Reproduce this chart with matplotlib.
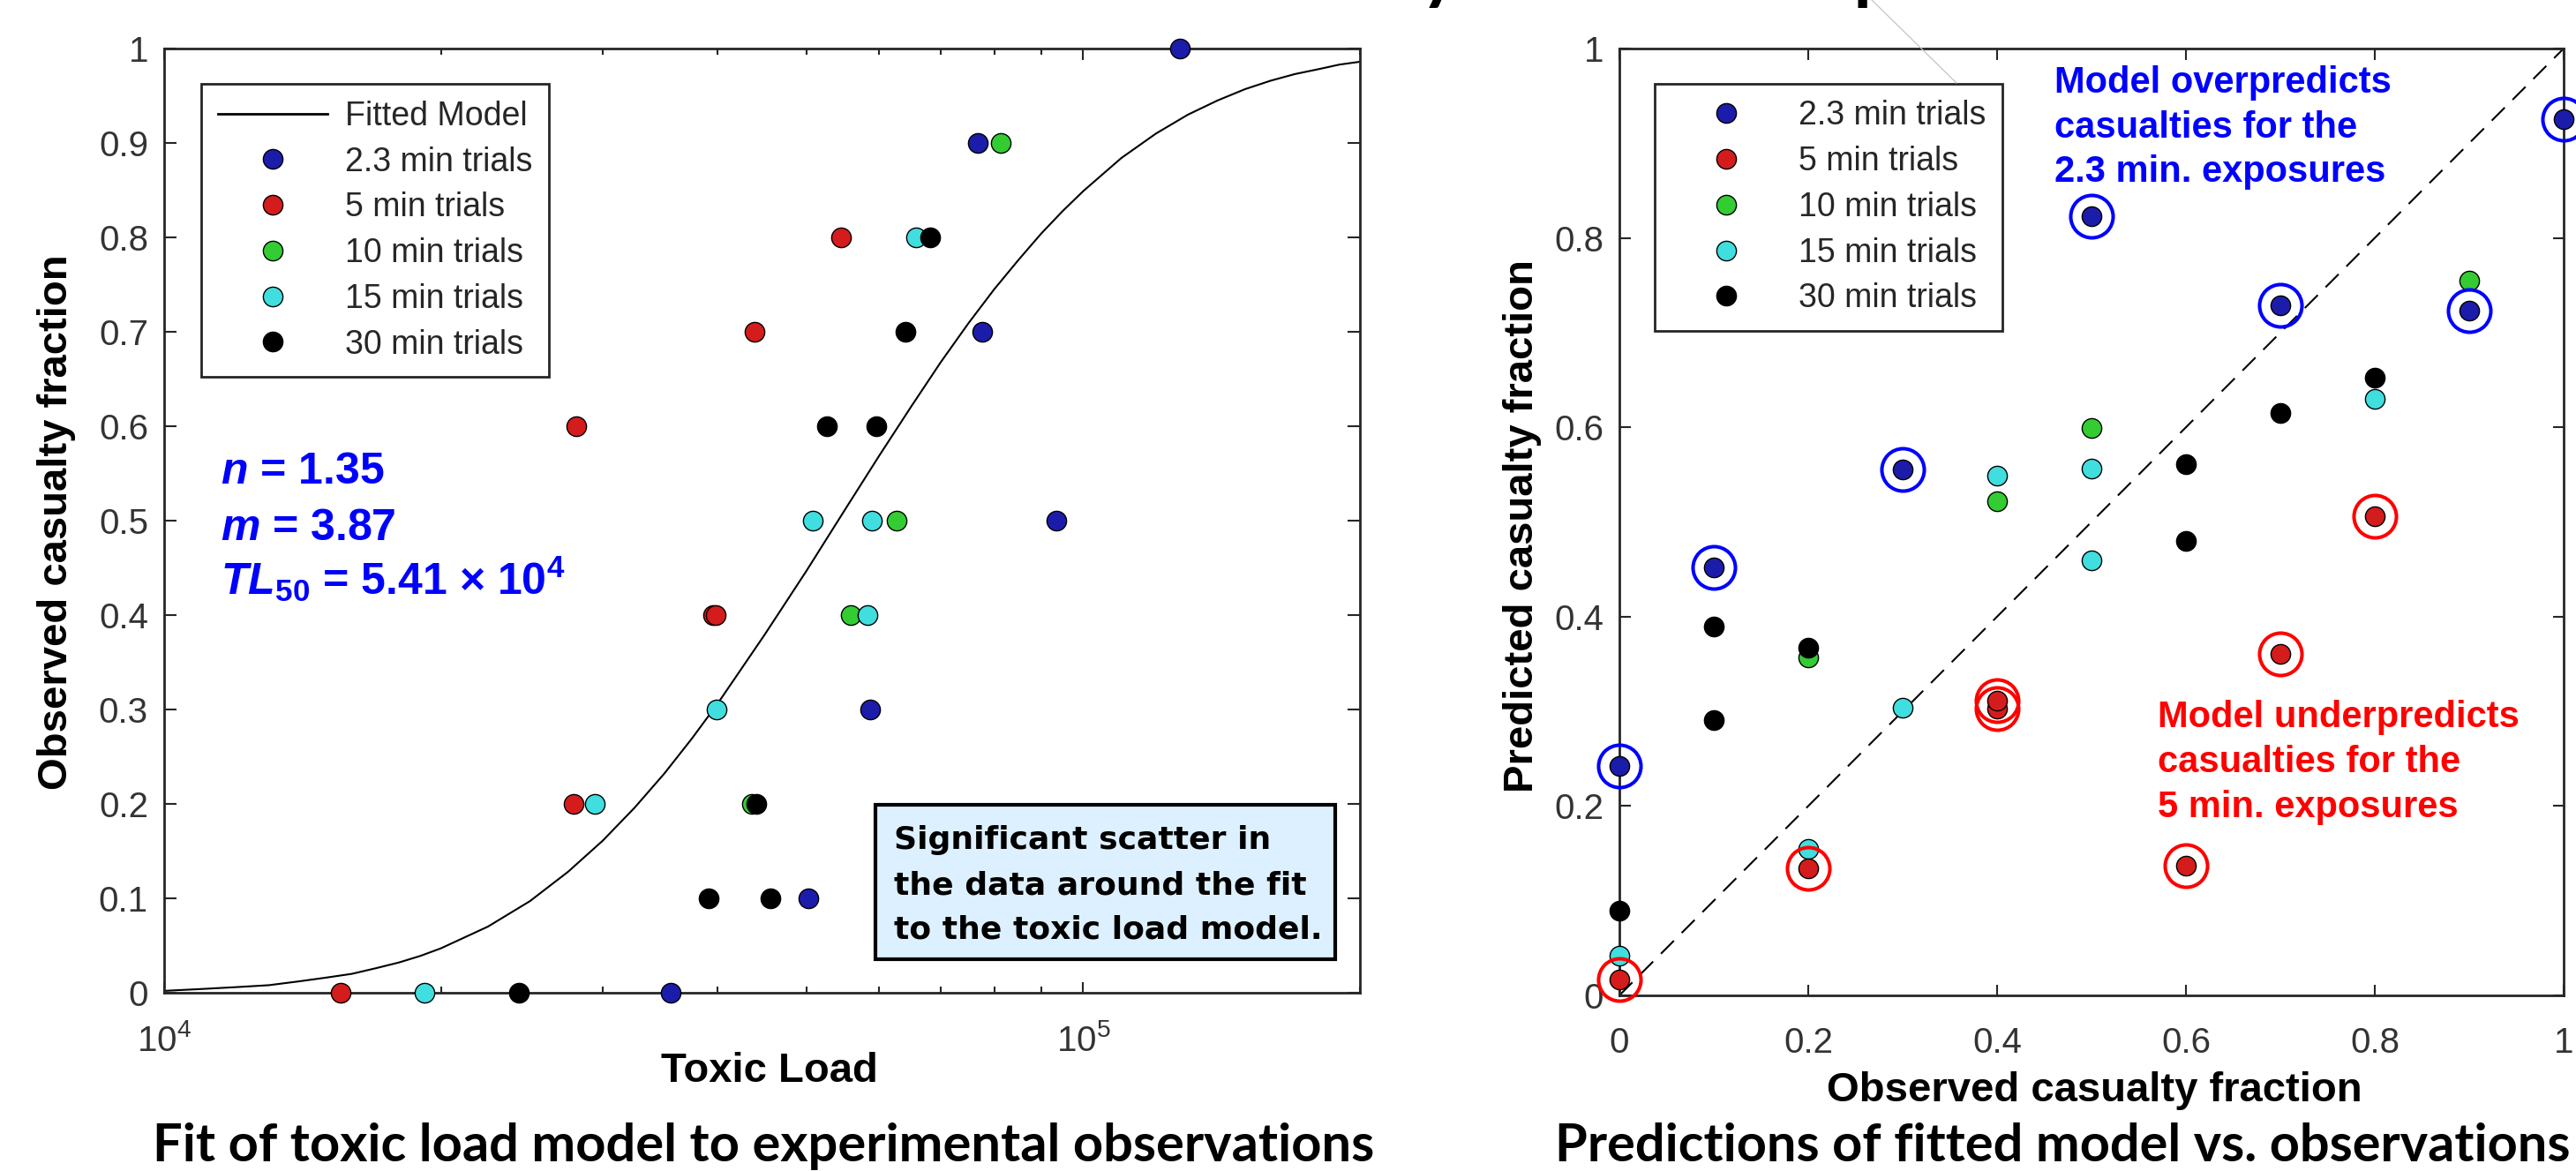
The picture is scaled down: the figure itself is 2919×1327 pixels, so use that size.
import numpy as np
import matplotlib
matplotlib.use("Agg")
import matplotlib.pyplot as plt
from matplotlib.lines import Line2D
from matplotlib.patches import Rectangle
from matplotlib.ticker import LogLocator, NullFormatter

plt.rcParams['font.family'] = ['Liberation Sans', 'DejaVu Sans']
plt.rcParams['mathtext.fontset'] = 'custom'
plt.rcParams['mathtext.rm'] = 'Liberation Sans'
plt.rcParams['mathtext.it'] = 'Liberation Sans:italic'
plt.rcParams['mathtext.bf'] = 'Liberation Sans:bold'
plt.rcParams['mathtext.bfit'] = 'Liberation Sans:italic:bold'

# ---------------- data ----------------
series_labels = ['2.3 min trials', '5 min trials', '10 min trials', '15 min trials', '30 min trials']
series_colors = ['#1c1caa', '#d41c1c', '#33cc33', '#40dede', '#000000']

# observed casualty fraction vs toxic load (left panel)
tl_23 = [1.275e5, 7.68e4, 7.76e4, 9.35e4, 5.86e4, 5.02e4, 3.56e4]
obs_23 = [1.0, 0.9, 0.7, 0.5, 0.3, 0.1, 0.0]
tl_5 = [5.45e4, 4.39e4, 2.81e4, 3.96e4, 3.98e4, 2.79e4, 1.556e4]
obs_5 = [0.8, 0.7, 0.6, 0.4, 0.4, 0.2, 0.0]
tl_10 = [8.13e4, 6.27e4, 5.58e4, 4.36e4]
obs_10 = [0.9, 0.5, 0.4, 0.2]
tl_15 = [6.58e4, 5.08e4, 5.89e4, 5.82e4, 3.99e4, 2.94e4, 1.92e4]
obs_15 = [0.8, 0.5, 0.5, 0.4, 0.3, 0.2, 0.0]
tl_30 = [6.81e4, 6.41e4, 5.26e4, 5.95e4, 4.41e4, 3.91e4, 4.57e4, 2.43e4]
obs_30 = [0.8, 0.7, 0.6, 0.6, 0.2, 0.1, 0.1, 0.0]

# predicted casualty fraction (right panel), same order as the observed lists
pred_23 = [0.925, 0.723, 0.729, 0.823, 0.555, 0.452, 0.2425]
pred_5 = [0.506, 0.361, 0.137, 0.303, 0.311, 0.134, 0.017]
pred_10 = [0.755, 0.599, 0.522, 0.357]
pred_15 = [0.630, 0.459, 0.556, 0.549, 0.304, 0.155, 0.0415]
pred_30 = [0.652, 0.615, 0.480, 0.561, 0.367, 0.291, 0.390, 0.0895]

# fitted model curve
curve_tl = [1.0e4, 1.1e4, 1.2e4, 1.3e4, 1.4e4, 1.5e4, 1.6e4, 1.7e4, 1.8e4, 1.9e4,
            2.0e4, 2.25e4, 2.5e4, 2.75e4, 3.0e4, 3.25e4, 3.5e4, 3.75e4, 4.0e4, 4.5e4,
            5.0e4, 5.5e4, 6.0e4, 6.5e4, 7.0e4, 7.5e4, 8.0e4, 8.5e4, 9.0e4, 9.5e4,
            1.0e5, 1.1e5, 1.2e5, 1.3e5, 1.4e5, 1.5e5, 1.6e5, 1.7e5, 1.8e5, 1.9e5, 2.0e5]
curve_frac = [0.002, 0.004, 0.006, 0.008, 0.012, 0.016, 0.020, 0.026, 0.032, 0.039,
              0.047, 0.070, 0.097, 0.128, 0.161, 0.196, 0.232, 0.269, 0.306, 0.379,
              0.447, 0.511, 0.569, 0.621, 0.668, 0.709, 0.745, 0.776, 0.804, 0.828,
              0.849, 0.884, 0.910, 0.930, 0.945, 0.957, 0.966, 0.973, 0.978, 0.983, 0.986]

parity = [0, 1]

left_yticks = [0, 0.1, 0.2, 0.3, 0.4, 0.5, 0.6, 0.7, 0.8, 0.9, 1]
left_yticklabels = ['0', '0.1', '0.2', '0.3', '0.4', '0.5', '0.6', '0.7', '0.8', '0.9', '1']
left_xticks = [1e4, 1e5]
left_xticklabels = [r'$10^{4}$', r'$10^{5}$']
right_ticks = [0, 0.2, 0.4, 0.6, 0.8, 1]
right_ticklabels = ['0', '0.2', '0.4', '0.6', '0.8', '1']

# ---------------- figure ----------------
W, H = 2919, 1327
fig = plt.figure(figsize=(W / 100, H / 100), dpi=100)
fig.patch.set_facecolor('white')


def fx(px):
    return px / W


def fy(py):
    return 1 - py / H


axL = fig.add_axes([fx(186), fy(1125), fx(1541) - fx(186), fy(55) - fy(1125)])
axR = fig.add_axes([fx(1835), fy(1128), fx(2905) - fx(1835), fy(55) - fy(1128)])

AXC = '#262626'
TICKC = '#333333'
MS = 16

# ---- left panel ----
axL.set_xscale('log')
axL.plot(curve_tl, curve_frac, color='k', lw=1.5, zorder=2)
left_sets = [(tl_23, obs_23), (tl_5, obs_5), (tl_10, obs_10), (tl_15, obs_15), (tl_30, obs_30)]
for (tl, obs), c in zip(left_sets, series_colors):
    axL.plot(tl, obs, ls='none', marker='o', ms=MS, mfc=c, mec='k', mew=1.0,
             clip_on=False, zorder=3)
axL.set_xlim(1e4, 2e5)
axL.set_ylim(0, 1)
axL.set_xticks(left_xticks)
axL.set_xticklabels(left_xticklabels)
axL.xaxis.set_minor_locator(LogLocator(base=10, subs=np.arange(2, 10)))
axL.xaxis.set_minor_formatter(NullFormatter())
axL.set_yticks(left_yticks)
axL.set_yticklabels(left_yticklabels)
axL.tick_params(which='both', direction='in', top=True, right=True,
                labelsize=29, labelcolor=TICKC, color=AXC, width=1.5)
axL.tick_params(axis='y', which='major', length=10, pad=13)
axL.tick_params(axis='x', which='major', length=9, pad=25)
axL.tick_params(axis='x', which='minor', length=5)

leg_kw = dict(loc='upper left', borderaxespad=0, fontsize=27,
              handlelength=3.3, handletextpad=0.55, labelspacing=0.42,
              borderpad=0.5, frameon=True, fancybox=False, edgecolor=AXC,
              framealpha=1)
handlesL = [Line2D([], [], color='k', lw=2)] + [
    Line2D([], [], ls='none', marker='o', ms=MS, mfc=c, mec='k', mew=1.0) for c in series_colors]
legL = axL.legend(handlesL, ['Fitted Model'] + series_labels,
                  bbox_to_anchor=(0.031, 0.9626), **leg_kw)
legL.get_frame().set_linewidth(2)
for t in legL.get_texts():
    t.set_color(AXC)

# ---- right panel ----
axR.plot(parity, parity, color='k', ls=(0, (10, 6)), lw=1.5, zorder=2)
right_sets = [(obs_23, pred_23), (obs_5, pred_5), (obs_10, pred_10), (obs_15, pred_15), (obs_30, pred_30)]
zords = [3, 3.6, 3, 3.2, 3.4]
for (obs, pred), c, z in zip(right_sets, series_colors, zords):
    axR.plot(obs, pred, ls='none', marker='o', ms=MS, mfc=c, mec='k', mew=1.0,
             clip_on=False, zorder=z)
axR.plot(obs_23, pred_23, ls='none', marker='o', ms=34.6, mfc='none', mec='#0000ff',
         mew=2.9, clip_on=False, zorder=4)
axR.plot(obs_5, pred_5, ls='none', marker='o', ms=34.6, mfc='none', mec='#ff0000',
         mew=2.9, clip_on=False, zorder=4)
axR.set_xlim(0, 1)
axR.set_ylim(0, 1)
axR.set_xticks(right_ticks)
axR.set_xticklabels(right_ticklabels)
axR.set_yticks(right_ticks)
axR.set_yticklabels(right_ticklabels)
axR.tick_params(which='both', direction='in', top=True, right=True,
                labelsize=29, labelcolor=TICKC, color=AXC, width=1.5, length=9)
axR.tick_params(axis='y', pad=13)
axR.tick_params(axis='x', pad=25)

handlesR = [Line2D([], [], ls='none', marker='o', ms=MS, mfc=c, mec='k', mew=1.0)
            for c in series_colors]
legR = axR.legend(handlesR, series_labels, bbox_to_anchor=(0.0374, 0.963), **leg_kw)
legR.get_frame().set_linewidth(2)
for t in legR.get_texts():
    t.set_color(AXC)

for ax in (axL, axR):
    for s in ax.spines.values():
        s.set_linewidth(2)
        s.set_color(AXC)

# ---- axis labels ----
lab_kw = dict(fontsize=34, fontweight='bold', color='k')
fig.text(fx(872), fy(1226), 'Toxic Load', ha='center', va='baseline', **lab_kw)
fig.text(fx(2373), fy(1248), 'Observed casualty fraction', ha='center', va='baseline', **lab_kw)
fig.text(fx(76), fy(592), 'Observed casualty fraction', rotation=90, rotation_mode='anchor',
         ha='center', va='baseline', **lab_kw)
fig.text(fx(1737), fy(596), 'Predicted casualty fraction', rotation=90, rotation_mode='anchor',
         ha='center', va='baseline', **lab_kw)

# ---- model parameter annotation ----
blue = '#0000ff'
red = '#ff0000'
fig.text(fx(250), fy(548), r'$\mathbfit{n}$ = 1.35', fontsize=36, fontweight='bold', color=blue, va='baseline')
fig.text(fx(250), fy(612), r'$\mathbfit{m}$ = 3.87', fontsize=36, fontweight='bold', color=blue, va='baseline')
fig.text(fx(250), fy(674), r'$\mathbfit{TL}_{\mathbf{50}}$ = 5.41 × $\mathbf{10}^{\mathbf{4}}$',
         fontsize=36, fontweight='bold', color=blue, va='baseline')

# ---- scatter note box ----
fig.add_artist(Rectangle((fx(992), fy(1087)), fx(1513) - fx(992), fy(912) - fy(1087),
                         transform=fig.transFigure, facecolor='#ddf0ff', edgecolor='k',
                         lw=3, zorder=5))
box_lines = ['Significant scatter in', 'the data around the fit', 'to the toxic load model.']
for line, b in zip(box_lines, [962, 1013, 1063]):
    fig.text(fx(1013), fy(b), line, fontsize=26, fontweight='bold', family='DejaVu Sans',
             color='k', va='baseline', zorder=6)

# ---- right panel notes ----
over_lines = ['Model overpredicts', 'casualties for the', '2.3 min. exposures']
for line, b in zip(over_lines, [105, 156, 206]):
    fig.text(fx(2328), fy(b), line, fontsize=30, fontweight='bold', color=blue, va='baseline')
under_lines = ['Model underpredicts', 'casualties for the', '5 min. exposures']
for line, b in zip(under_lines, [824, 875, 926]):
    fig.text(fx(2445), fy(b), line, fontsize=30, fontweight='bold', color=red, va='baseline')

# ---- panel captions ----
renderer = fig.canvas.get_renderer()
cap_kw = dict(fontweight='bold', family=['Lato', 'DejaVu Sans'], color='k', va='baseline', ha='center')
capL = fig.text(fx(865), fy(1316), 'Fit of toxic load model to experimental observations', fontsize=36, **cap_kw)
capR = fig.text(fx(2337), fy(1316), 'Predictions of fitted model vs. observations', fontsize=36, **cap_kw)
for t, target in ((capL, 1381), (capR, 1150)):
    w = t.get_window_extent(renderer).width
    t.set_fontsize(t.get_fontsize() * target / w)

# ---- page title (cut off by the top edge, as in the source slide) ----
title_kw = dict(fontweight='bold', family=['Lato', 'DejaVu Sans'], fontsize=60, color='k', va='baseline')
title_text = 'Toxic Load Analysis of the Exposure Data'
probe = fig.text(0, 0, 'Toxic Load Anal', **title_kw)
pre_w = probe.get_window_extent(renderer).width
probe.remove()
fig.text(fx(1610 - pre_w), 1 + 5 / H, title_text, **title_kw)

# faint leader line at top
fig.add_artist(Line2D([fx(2121), fx(2217)], [fy(0), fy(94)], transform=fig.transFigure,
                      color='#c4c4c4', lw=0.9))

fig.savefig('out.png', dpi=100, facecolor='white')
